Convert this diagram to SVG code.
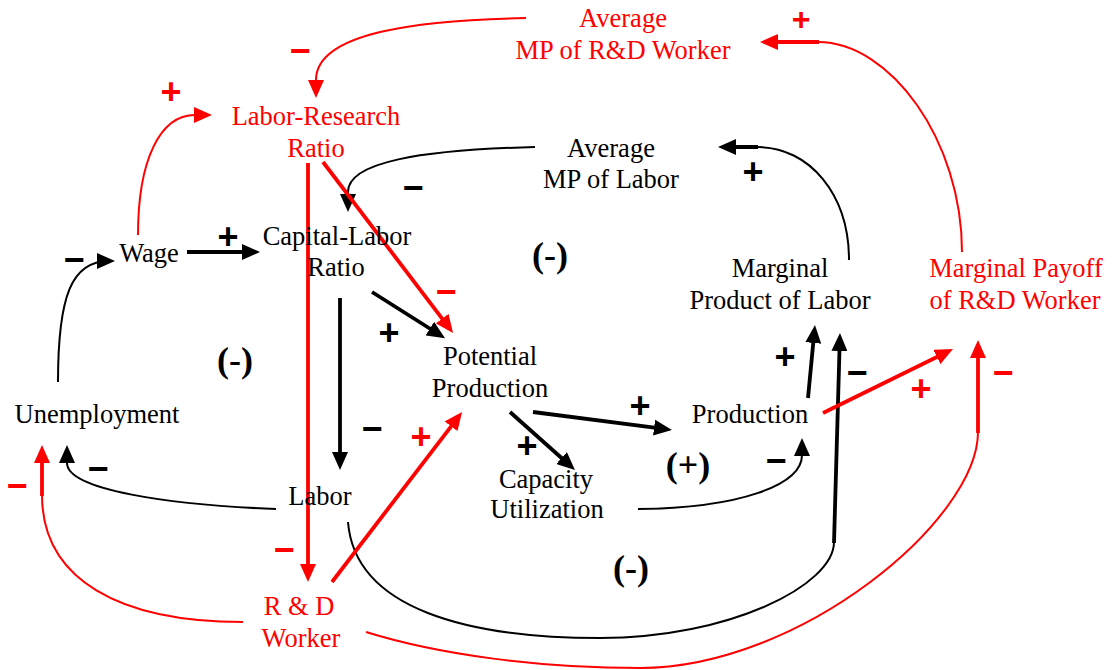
<svg xmlns="http://www.w3.org/2000/svg" width="1114" height="670" viewBox="0 0 1114 670">
  <defs>
    <style>
      .lbl { font-family: "Liberation Serif", "Times New Roman", serif; font-size: 26.5px; text-anchor: middle; fill: #000; }
      .red { fill: #ff0000; }
      .loop { font-family: "Liberation Serif", "Times New Roman", serif; font-size: 36px; font-weight: bold; text-anchor: middle; fill: #000; }
      .sgn { font-family: "Liberation Sans", Arial, sans-serif; font-size: 36px; font-weight: bold; text-anchor: middle; fill: #000; }
      .sgn.r { fill: #ff0000; }
      .thin { fill: none; stroke: #000; stroke-width: 2; }
      .thick { fill: none; stroke: #000; stroke-width: 3.8; }
      .thin.r, .thick.r { stroke: #ff0000; }
    </style>
    <marker id="ahB" viewBox="0 0 18 16" refX="12" refY="8" markerWidth="18" markerHeight="16" markerUnits="userSpaceOnUse" orient="auto">
      <path d="M0,0 L18,8 L0,16 Z" fill="#000"/>
    </marker>
    <marker id="ahR" viewBox="0 0 18 16" refX="12" refY="8" markerWidth="18" markerHeight="16" markerUnits="userSpaceOnUse" orient="auto">
      <path d="M0,0 L18,8 L0,16 Z" fill="#ff0000"/>
    </marker>
  </defs>
  <rect width="1114" height="670" fill="#fff"/>

  <g id="connectors">
    <!-- black links -->
    <path class="thin" d="M58,382 C58,295 72,261 109,261" marker-end="url(#ahB)"/>
    <path class="thick" d="M187,252 L254,252" marker-end="url(#ahB)"/>
    <path class="thin" d="M535,147 C420,150 348,162 348,192 L348,206" marker-end="url(#ahB)"/>
    <path class="thin" d="M849,260 C849,195 810,147 757,147"/>
    <path class="thick" d="M758,147 L724,147" marker-end="url(#ahB)"/>
    <path class="thick" d="M340,298 L340,464" marker-end="url(#ahB)"/>
    <path class="thick" d="M372,292 L440,335" marker-end="url(#ahB)"/>
    <path class="thin" d="M276,509 C170,505 67,490 67,463 L67,451" marker-end="url(#ahB)"/>
    <path class="thick" d="M510,412 L570.5,466" marker-end="url(#ahB)"/>
    <path class="thick" d="M533,412 L666,429.2" marker-end="url(#ahB)"/>
    <path class="thin" d="M638,509 C740,508 802,485 802,455 L802,444" marker-end="url(#ahB)"/>
    <path class="thick" d="M808,398 L814.4,331" marker-end="url(#ahB)"/>
    <path class="thin" d="M348,522 C355,610 470,638 600,638 C730,638 834,585 834,542"/>
    <path class="thick" d="M834,543 L839.8,339" marker-end="url(#ahB)"/>
    <!-- red links -->
    <path class="thin r" d="M526,18 C420,20 316,32 316,80 L316,92" marker-end="url(#ahR)"/>
    <path class="thin r" d="M138,235 C138,160 160,115 195,115 L206,115" marker-end="url(#ahR)"/>
    <path class="thick r" d="M308,163 L308,576" marker-end="url(#ahR)"/>
    <path class="thick r" d="M323,162 L449.4,328.2" marker-end="url(#ahR)"/>
    <path class="thin r" d="M962,252 C962,140 890,42 818,42"/>
    <path class="thick r" d="M819,42 L766,42" marker-end="url(#ahR)"/>
    <path class="thick r" d="M823,413 L947.6,351.7" marker-end="url(#ahR)"/>
    <path class="thin r" d="M243,622 C120,622 42,580 42,495"/>
    <path class="thick r" d="M42,496 L42,451" marker-end="url(#ahR)"/>
    <path class="thick r" d="M332,582 L458.4,416.8" marker-end="url(#ahR)"/>
    <path class="thin r" d="M366,632 C440,655 540,668 640,668 C800,668 978,520 978,432"/>
    <path class="thick r" d="M978,433 L978,346" marker-end="url(#ahR)"/>
  </g>

  <g id="polarities">
    <text class="sgn r" x="300" y="63">−</text>
    <text class="sgn r" x="171" y="104">+</text>
    <text class="sgn" x="74" y="272">−</text>
    <text class="sgn" x="228" y="249">+</text>
    <text class="sgn" x="413" y="200">−</text>
    <text class="sgn r" x="446" y="304">−</text>
    <text class="sgn" x="389" y="345">+</text>
    <text class="sgn" x="753" y="184">+</text>
    <text class="sgn r" x="801" y="30" style="font-size:32px">+</text>
    <text class="sgn" x="372" y="441">−</text>
    <text class="sgn" x="98" y="481">−</text>
    <text class="sgn r" x="17" y="498">−</text>
    <text class="sgn r" x="284" y="562">−</text>
    <text class="sgn r" x="421" y="449">+</text>
    <text class="sgn" x="527" y="458">+</text>
    <text class="sgn" x="640" y="418">+</text>
    <text class="sgn" x="776" y="473">−</text>
    <text class="sgn" x="785" y="369">+</text>
    <text class="sgn" x="857" y="385">−</text>
    <text class="sgn r" x="921" y="401">+</text>
    <text class="sgn r" x="1003" y="385">−</text>
  </g>

  <g id="loops">
    <text class="loop" x="550" y="267">(-)</text>
    <text class="loop" x="235" y="372">(-)</text>
    <text class="loop" x="688" y="477">(+)</text>
    <text class="loop" x="631" y="580">(-)</text>
  </g>

  <g id="avg-mp-rd-worker"><text class="lbl red" x="623" y="27">Average</text><text class="lbl red" x="623" y="59">MP of R&amp;D Worker</text></g>
  <g id="labor-research-ratio"><text class="lbl red" x="316" y="125">Labor-Research</text><text class="lbl red" x="316" y="157">Ratio</text></g>
  <g id="avg-mp-labor"><text class="lbl" x="611" y="157">Average</text><text class="lbl" x="611" y="188">MP of Labor</text></g>
  <g id="wage"><text class="lbl" x="149" y="262">Wage</text></g>
  <g id="capital-labor-ratio"><text class="lbl" x="337" y="245">Capital-Labor</text><text class="lbl" x="336" y="276">Ratio</text></g>
  <g id="marginal-product-labor"><text class="lbl" x="780" y="277">Marginal</text><text class="lbl" x="780" y="309">Product of Labor</text></g>
  <g id="marginal-payoff-rd"><text class="lbl red" x="1016" y="277">Marginal Payoff</text><text class="lbl red" x="1015" y="309">of R&amp;D Worker</text></g>
  <g id="potential-production"><text class="lbl" x="490" y="365">Potential</text><text class="lbl" x="490" y="397">Production</text></g>
  <g id="unemployment"><text class="lbl" x="97" y="423">Unemployment</text></g>
  <g id="production"><text class="lbl" x="750" y="423">Production</text></g>
  <g id="capacity-utilization"><text class="lbl" x="546" y="488">Capacity</text><text class="lbl" x="547" y="518">Utilization</text></g>
  <g id="labor"><text class="lbl" x="320" y="505">Labor</text></g>
  <g id="rd-worker"><text class="lbl red" x="299" y="615">R &amp; D</text><text class="lbl red" x="301" y="647">Worker</text></g>
</svg>
